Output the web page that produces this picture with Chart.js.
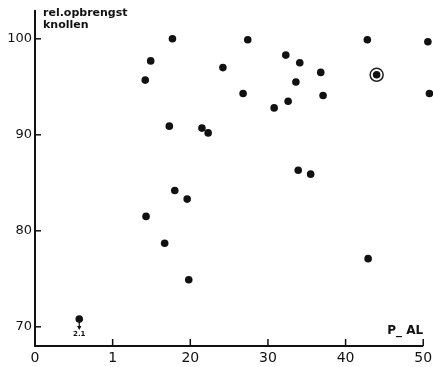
<!DOCTYPE html>
<html>
<head>
<meta charset="utf-8">
<script src="https://cdn.jsdelivr.net/npm/chart.js@4.4.1/dist/chart.umd.min.js"></script>
<style>
  html, body { margin: 0; background: #fff; }
  #wrap { width: 433px; height: 367px; }
</style>
</head>
<body>
<div id="wrap"><canvas id="chart"></canvas></div>
<script>
// P-AL getal tegen relatieve opbrengst knollen
const pAl = [17.7, 14.9, 14.2, 27.4, 32.3, 24.2, 26.8, 32.6, 30.8, 17.3, 21.5, 22.3,
  42.8, 50.6, 34.1, 36.8, 44.0, 33.6, 37.1, 50.8, 18.0, 19.6, 14.3, 16.7, 19.8,
  33.9, 35.5, 42.9, 5.7];
const relYield = [100.0, 97.7, 95.7, 99.9, 98.3, 97.0, 94.3, 93.5, 92.8, 90.9, 90.7, 90.2,
  99.9, 99.7, 97.5, 96.5, 96.25, 95.5, 94.1, 94.3, 84.2, 83.3, 81.5, 78.7, 74.9,
  86.3, 85.9, 77.1, 70.8];
const circledPoint = { x: 44.0, y: 96.25 };
const offScalePoint = { x: 5.7, y: 70.8, label: '2.1' };

const xTicks = [0, 10, 20, 30, 40, 50];
const xTickLabels = ['0', '1', '20', '30', '40', '50'];
const yTicks = [70, 80, 90, 100];

const ink = '#111';
const noPadding = () => ({ left: 0, right: 0, top: 0, bottom: 0 });

const axisMarks = {
  id: 'axisMarks',
  afterDraw(chart) {
    const { ctx, scales: { x, y } } = chart;
    const xEnd = x.getPixelForValue(xTicks[xTicks.length - 1]);
    ctx.save();
    ctx.strokeStyle = ink;
    ctx.fillStyle = ink;

    // axes
    ctx.lineWidth = 2;
    ctx.beginPath();
    ctx.moveTo(x.left, y.top);
    ctx.lineTo(x.left, y.bottom);
    ctx.lineTo(xEnd, y.bottom);
    ctx.stroke();

    // inward ticks
    ctx.lineWidth = 1.5;
    yTicks.forEach((v) => {
      const py = y.getPixelForValue(v);
      ctx.beginPath();
      ctx.moveTo(x.left, py);
      ctx.lineTo(x.left + 6, py);
      ctx.stroke();
    });
    xTicks.slice(1).forEach((v) => {
      const px = x.getPixelForValue(v);
      ctx.beginPath();
      ctx.moveTo(px, y.bottom);
      ctx.lineTo(px, y.bottom - 7);
      ctx.stroke();
    });

    // arrow for the point below the scale
    const ax = x.getPixelForValue(offScalePoint.x);
    const ay = y.getPixelForValue(offScalePoint.y);
    ctx.lineWidth = 1.2;
    ctx.beginPath();
    ctx.moveTo(ax, ay + 3);
    ctx.lineTo(ax, ay + 8);
    ctx.stroke();
    ctx.beginPath();
    ctx.moveTo(ax - 2.2, ay + 7);
    ctx.lineTo(ax + 2.2, ay + 7);
    ctx.lineTo(ax, ay + 11);
    ctx.closePath();
    ctx.fill();
    ctx.font = 'bold 7px "DejaVu Sans"';
    ctx.textAlign = 'center';
    ctx.textBaseline = 'top';
    ctx.fillText(offScalePoint.label, ax, ay + 12);

    // axis titles
    ctx.font = 'bold 11px "DejaVu Sans"';
    ctx.textAlign = 'left';
    ctx.textBaseline = 'middle';
    ctx.fillText('rel.opbrengst', x.left + 8, 13);
    ctx.fillText('knollen', x.left + 8, 25);
    ctx.font = 'bold 12px "DejaVu Sans"';
    ctx.textAlign = 'right';
    ctx.fillText('P_ AL', xEnd, y.bottom - 15);
    ctx.restore();
  },
};

new Chart(document.getElementById('chart'), {
  type: 'scatter',
  data: {
    datasets: [
      {
        data: pAl.map((v, i) => ({ x: v, y: relYield[i] })),
        pointRadius: 3.8,
        pointHoverRadius: 3.8,
        backgroundColor: ink,
        borderWidth: 0,
        clip: false,
      },
      {
        data: [circledPoint],
        pointRadius: 6.5,
        backgroundColor: 'rgba(0,0,0,0)',
        borderColor: '#222',
        borderWidth: 1.5,
        clip: false,
      },
    ],
  },
  options: {
    responsive: true,
    maintainAspectRatio: false,
    animation: false,
    layout: { autoPadding: false, padding: { top: 10, right: 2, left: 0, bottom: 0 } },
    plugins: { legend: { display: false }, tooltip: { enabled: false } },
    scales: {
      x: {
        type: 'linear',
        min: 0,
        max: 51,
        afterBuildTicks: (s) => { s.ticks = xTicks.map((value) => ({ value })); },
        afterFit: (s) => {
          s.height = 21;
          s.getPadding = noPadding;
        },
        grid: { display: false, drawTicks: false },
        border: { display: false },
        ticks: {
          autoSkip: false,
          maxRotation: 0,
          padding: 4,
          color: ink,
          font: { family: '"DejaVu Sans"', size: 14 },
          callback: (v) => xTickLabels[xTicks.indexOf(v)],
        },
      },
      y: {
        type: 'linear',
        min: 68,
        max: 103,
        afterBuildTicks: (s) => { s.ticks = yTicks.map((value) => ({ value })); },
        afterFit: (s) => {
          s.width = 35;
          s.getPadding = noPadding;
        },
        grid: { display: false, drawTicks: false },
        border: { display: false },
        ticks: {
          padding: 3,
          color: ink,
          font: { family: '"DejaVu Sans"', size: 13 },
        },
      },
    },
  },
  plugins: [axisMarks],
});
</script>
</body>
</html>
